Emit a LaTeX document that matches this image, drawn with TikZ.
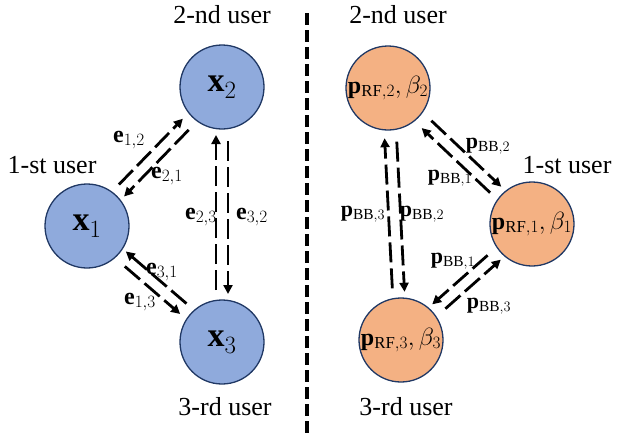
\documentclass[tikz,border=0pt]{standalone}
\usepackage{fontspec}
\setmainfont{Liberation Serif}
\usepackage{xcolor}
\usetikzlibrary{arrows.meta, calc}

\definecolor{userblue}{RGB}{143,170,220}
\definecolor{userorange}{RGB}{244,177,131}
\definecolor{rimnavy}{RGB}{32,56,100}

\begin{document}
\begin{tikzpicture}[
    x=1pt, y=-1pt,
    blueuser/.style={circle, draw=rimnavy, line width=1.3pt, fill=userblue, minimum size=84pt, inner sep=0pt, font=\fontsize{34}{38}\selectfont},
    orangeuser/.style={circle, draw=rimnavy, line width=1.3pt, fill=userorange, minimum size=84pt, inner sep=0pt, font=\fontsize{24}{28}\selectfont},
    tag/.style={font=\fontsize{26}{30}\selectfont},
    elabel/.style={font=\fontsize{24}{28}\selectfont},
    plabel/.style={font=\fontsize{22}{26}\selectfont},
    link/.style={-{Triangle[length=9pt,width=9pt]}, line width=2.8pt, dash pattern=on 20pt off 6pt},
]
\useasboundingbox (0,0) rectangle (617,439);

% Left: users with x
\node[blueuser] (x2) at (222,87) {$\mathbf{x}_2$};
\node[blueuser] (x1) at (87,226) {$\mathbf{x}_1$};
\node[blueuser] (x3) at (222,342) {$\mathbf{x}_3$};

\node[tag] (lt2) at (222,15) {2-nd user};
\node[tag] (lt1) at (52,165) {1-st user};
\node[tag] (lt3) at (225,407) {3-rd user};

% Separator
\coordinate (septop) at (307,13);
\coordinate (sepbot) at (307,435);
\draw[line width=4pt, dash pattern=on 12pt off 5pt] (septop) -- (sepbot);

% Right: users with p
\node[orangeuser] (p2) at (388,88) {$\mathbf{p}_{\mathrm{RF},2}{,}\,\beta_2$};
\node[orangeuser] (p1) at (532,224) {$\mathbf{p}_{\mathrm{RF},1}{,}\,\beta_1$};
\node[orangeuser] (p3) at (401,340) {$\mathbf{p}_{\mathrm{RF},3}{,}\,\beta_3$};

\node[tag] (rt2) at (398,15) {2-nd user};
\node[tag] (rt1) at (567,165) {1-st user};
\node[tag] (rt3) at (406,407) {3-rd user};

% Left arrows
\draw[link] ($(x1)!52pt!(x2)!6pt!90:(x2)$) -- ($(x2)!50pt!(x1)!6pt!-90:(x1)$);
\draw[link] ($(x2)!54pt!(x1)!6pt!90:(x1)$) -- ($(x1)!47pt!(x2)!6pt!-90:(x2)$);
\draw[link] ($(x3)!52pt!(x2)!6pt!90:(x2)$) -- ($(x2)!48pt!(x3)!6pt!-90:(x3)$);
\draw[link] ($(x2)!54pt!(x3)!6pt!90:(x3)$) -- ($(x3)!48pt!(x2)!6pt!-90:(x2)$);
\draw[link] ($(x3)!52pt!(x1)!6pt!-90:(x1)$) -- ($(x1)!46pt!(x3)!6pt!90:(x3)$);
\draw[link] ($(x1)!55pt!(x3)!6pt!-90:(x3)$) -- ($(x3)!50pt!(x1)!6pt!90:(x1)$);

\node[elabel] (e12) at (129,140) {$\mathbf{e}_{1,2}$};
\node[elabel] (e21) at (167,176) {$\mathbf{e}_{2,1}$};
\node[elabel] (e23) at (201,217) {$\mathbf{e}_{2,3}$};
\node[elabel] (e32) at (252,217) {$\mathbf{e}_{3,2}$};
\node[elabel] (e31) at (162,272) {$\mathbf{e}_{3,1}$};
\node[elabel] (e13) at (140,302) {$\mathbf{e}_{1,3}$};

% Right arrows
\draw[link] ($(p1)!52pt!(p2)!6pt!90:(p2)$) -- ($(p2)!52pt!(p1)!6pt!-90:(p1)$);
\draw[link] ($(p2)!54pt!(p1)!6pt!90:(p1)$) -- ($(p1)!48pt!(p2)!6pt!-90:(p2)$);
\draw[link] ($(p3)!52pt!(p2)!6pt!90:(p2)$) -- ($(p2)!50pt!(p3)!6pt!-90:(p3)$);
\draw[link] ($(p2)!54pt!(p3)!6pt!90:(p3)$) -- ($(p3)!48pt!(p2)!6pt!-90:(p2)$);
\draw[link] ($(p3)!54pt!(p1)!6pt!-90:(p1)$) -- ($(p1)!47pt!(p3)!6pt!90:(p3)$);
\draw[link] ($(p1)!54pt!(p3)!6pt!-90:(p3)$) -- ($(p3)!47pt!(p1)!6pt!90:(p1)$);

\node[plabel] (b2u) at (488,146) {$\mathbf{p}_{\mathrm{BB},2}$};
\node[plabel] (b1u) at (450,178) {$\mathbf{p}_{\mathrm{BB},1}$};
\node[plabel] (b3v) at (363,214) {$\mathbf{p}_{\mathrm{BB},3}$};
\node[plabel] (b2v) at (422,214) {$\mathbf{p}_{\mathrm{BB},2}$};
\node[plabel] (b1d) at (453,261) {$\mathbf{p}_{\mathrm{BB},1}$};
\node[plabel] (b3d) at (489,306) {$\mathbf{p}_{\mathrm{BB},3}$};

\end{tikzpicture}
\end{document}
